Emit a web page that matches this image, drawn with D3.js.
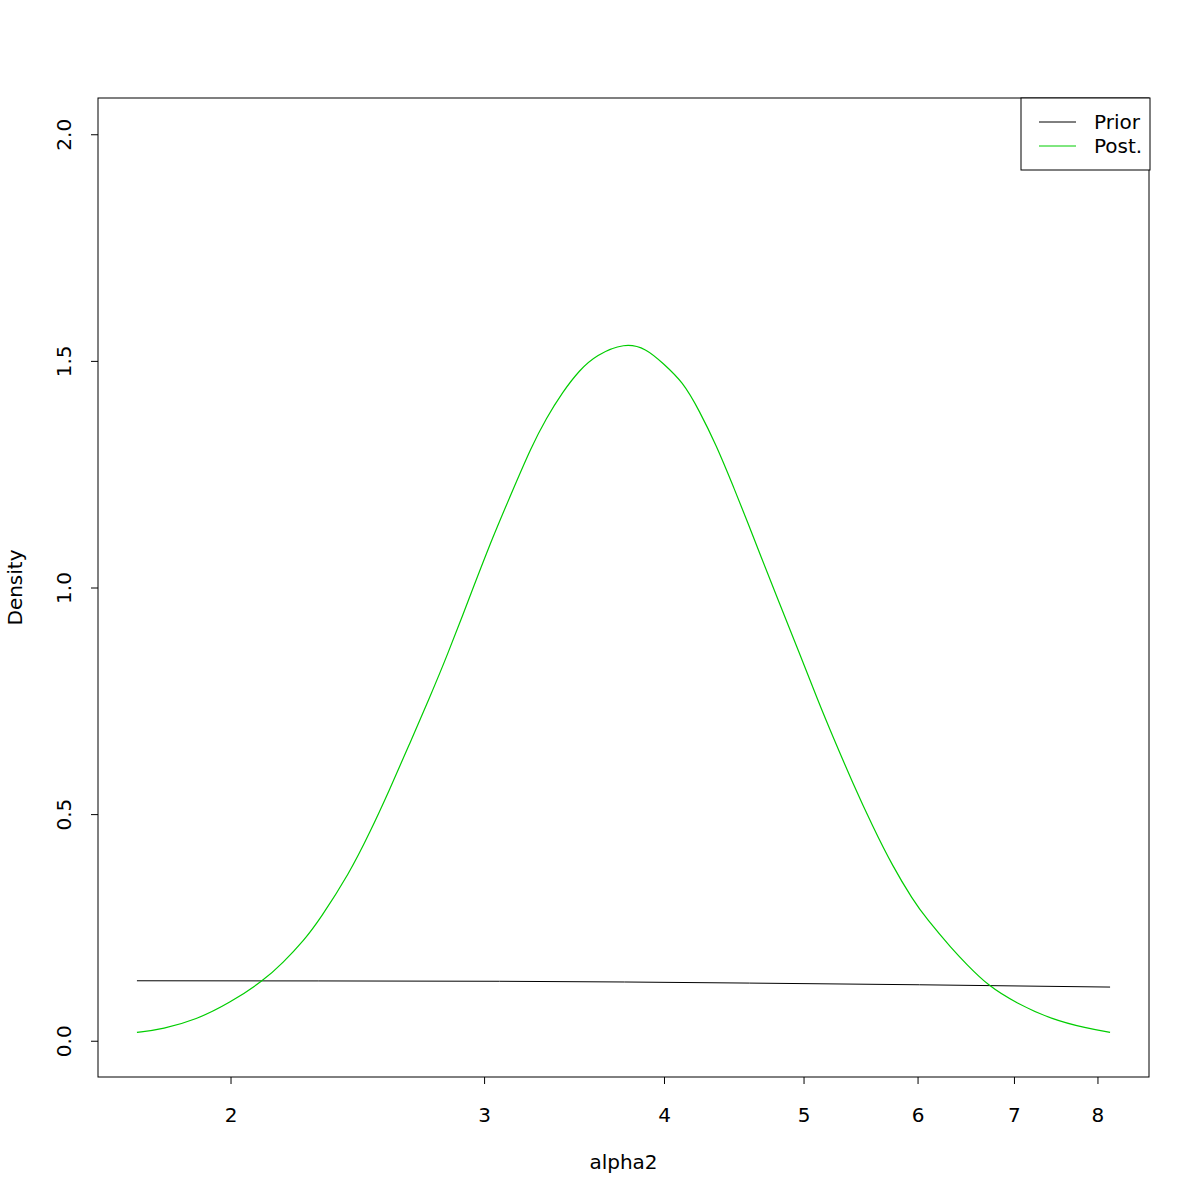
<!DOCTYPE html>
<html>
<head>
<meta charset="utf-8">
<script src="https://cdn.jsdelivr.net/npm/d3@7"></script>
<style>
  html, body { margin: 0; padding: 0; background: #fff; }
  svg text { font-family: "DejaVu Sans", sans-serif; }
</style>
</head>
<body>
<svg id="chart" width="1200" height="1200"></svg>
<script>
// ---- data ----
const postX = [1.722, 1.795, 1.893, 1.997, 2.109, 2.174, 2.251, 2.306, 2.419, 2.498, 2.579, 2.663, 2.749, 2.824, 2.946, 3.042, 3.141, 3.235, 3.313, 3.402, 3.494, 3.589, 3.755, 3.888, 3.992, 4.122, 4.234, 4.348, 4.465, 4.586, 4.660, 4.811, 4.968, 5.119, 5.240, 5.410, 5.585, 5.767, 5.955, 6.083, 6.347, 6.485, 6.713, 7.025, 7.448, 7.857, 8.163];
const postY = [0.0183, 0.0258, 0.0463, 0.0831, 0.1330, 0.1713, 0.2227, 0.2668, 0.3698, 0.4580, 0.5535, 0.6549, 0.7563, 0.8445, 0.9967, 1.1114, 1.2150, 1.3098, 1.3731, 1.4318, 1.4796, 1.5127, 1.5400, 1.5275, 1.4951, 1.4542, 1.3892, 1.3142, 1.2260, 1.1341, 1.0761, 0.9651, 0.8549, 0.7486, 0.6710, 0.5682, 0.4726, 0.3844, 0.3109, 0.2701, 0.2007, 0.1698, 0.1219, 0.0831, 0.0463, 0.0280, 0.0183];
const priorX = [1.722, 3.075, 4.586, 6.019, 8.163];
const priorY = [0.1323, 0.1312, 0.1272, 0.1235, 0.1184];
const xTicks = [2, 3, 4, 5, 6, 7, 8];
const yTicks = [0, 0.5, 1.0, 1.5, 2.0];
const yTickLabels = ["0.0", "0.5", "1.0", "1.5", "2.0"];
const legendLabels = ["Prior", "Post."];
const legendColors = ["#000000", "#00CD00"];

// ---- layout ----
const svg = d3.select("#chart");
const L = 98, R = 1149, T = 98, B = 1077;
const FS = 20;
const xMin = d3.min(postX), xMax = d3.max(postX);
const lr = Math.log(xMax) - Math.log(xMin);
const x = d3.scaleLog()
  .domain([Math.exp(Math.log(xMin) - 0.04 * lr), Math.exp(Math.log(xMax) + 0.04 * lr)])
  .range([L, R]);
const y = d3.scaleLinear().domain([-0.08, 2.08]).range([B, T]);

// axes
const xAxis = svg.append("g").attr("transform", `translate(0,${B})`)
  .call(d3.axisBottom(x).tickValues(xTicks).tickSize(7).tickPadding(24).tickFormat(d3.format("d")));
xAxis.select(".domain").remove();
xAxis.selectAll("text").attr("font-size", FS).attr("fill", "#000").attr("font-family", "DejaVu Sans");
xAxis.selectAll("line").attr("stroke", "#000");

const yAxis = svg.append("g").attr("transform", `translate(${L},0)`)
  .call(d3.axisLeft(y).tickValues(yTicks).tickSize(7).tickFormat((d, i) => yTickLabels[i]));
yAxis.select(".domain").remove();
yAxis.selectAll("line").attr("stroke", "#000");
yAxis.selectAll("text")
  .attr("x", null).attr("dy", null)
  .attr("text-anchor", "middle")
  .attr("transform", "translate(-27,0) rotate(-90)")
  .attr("font-size", FS).attr("fill", "#000").attr("font-family", "DejaVu Sans");

// box
svg.append("rect").attr("x", L).attr("y", T).attr("width", R - L).attr("height", B - T)
  .attr("fill", "none").attr("stroke", "#000").attr("stroke-width", 1);

// lines
const priorLine = d3.line().x(d => x(d[0])).y(d => y(d[1])).curve(d3.curveMonotoneX);
const postLine = d3.line().x(d => x(d[0])).y(d => y(d[1])).curve(d3.curveBasis);
svg.append("path").datum(priorX.map((v, i) => [v, priorY[i]]))
  .attr("d", priorLine).attr("fill", "none").attr("stroke", legendColors[0]).attr("stroke-width", 1);
svg.append("path").datum(postX.map((v, i) => [v, postY[i]]))
  .attr("d", postLine).attr("fill", "none")
  .attr("stroke", legendColors[1]).attr("stroke-width", 1.2);

// axis titles
svg.append("text").attr("x", (L + R) / 2).attr("y", 1169).attr("text-anchor", "middle")
  .attr("font-size", FS).text("alpha2");
svg.append("text").attr("transform", `translate(22,${(T + B) / 2}) rotate(-90)`)
  .attr("text-anchor", "middle").attr("font-size", FS).text("Density");

// legend
const lg = svg.append("g");
lg.append("rect").attr("x", 1021).attr("y", T).attr("width", R - 1021 + 1).attr("height", 72)
  .attr("fill", "#fff").attr("stroke", "#000").attr("stroke-width", 1);
legendLabels.forEach((lab, i) => {
  const yy = 122 + i * 24;
  lg.append("line").attr("x1", 1039).attr("x2", 1076).attr("y1", yy).attr("y2", yy)
    .attr("stroke", legendColors[i]).attr("stroke-width", 1);
  lg.append("text").attr("x", 1094).attr("y", yy + 7).attr("font-size", FS).text(lab);
});
</script>
</body>
</html>
